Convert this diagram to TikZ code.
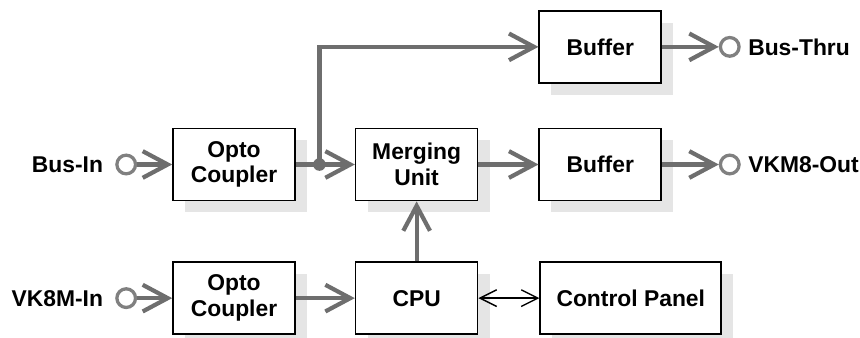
\documentclass[tikz,border=0pt]{standalone}
\usepackage{fontspec}
\setmainfont{Liberation Sans}
\usetikzlibrary{arrows.meta,positioning,shadows,calc}
\definecolor{linegray}{HTML}{6E6E6E}
\definecolor{portgray}{HTML}{808080}
\definecolor{shadowgray}{HTML}{E5E5E5}

\begin{document}
\begin{tikzpicture}[node distance=1.77cm,
      box/.style={draw=black, line width=1.4pt, fill=white, align=center,
                  minimum width=3.66cm, minimum height=2.16cm, inner sep=2pt,
                  font=\bfseries\fontsize{19.5}{22}\selectfont,
                  general shadow={fill=shadowgray, shadow xshift=0.36cm, shadow yshift=-0.36cm}},
      port/.style={circle, draw=portgray, line width=2.8pt, minimum size=0.56cm, inner sep=0pt},
      lbl/.style={font=\bfseries\fontsize{19.5}{22}\selectfont, inner sep=0pt},
      arr/.style={-{Straight Barb[length=0.75cm, width=0.8cm]}, linegray, line width=3.6pt},
      biarr/.style={{Straight Barb[length=0.5cm, width=0.5cm]}-{Straight Barb[length=0.5cm, width=0.5cm]},
                    black, line width=1.2pt}]
    \useasboundingbox (0,0) rectangle (25.8,-10.14);
    % blocks
    \node[box] (opto1) at (7.02,-4.935) {Opto\\Coupler};
    \node[box, right=of opto1] (merge) {Merging\\Unit};
    \node[box, right=1.8cm of merge] (buf2) {Buffer};
    \node[box, above=1.32cm of buf2] (buf1) {Buffer};
    \node[box, below=1.8cm of opto1] (opto2) {Opto\\Coupler};
    \node[box, right=of opto2] (cpu) {CPU};
    \node[box, right=1.83cm of cpu, minimum width=5.43cm] (panel) {Control Panel};
    % ports
    \node[port, left=1.05cm of opto1] (busin) {};
    \node[port, left=1.05cm of opto2] (vkin) {};
    \node[port, right=1.7cm of buf1] (busthru) {};
    \node[port, right=1.7cm of buf2] (vkout) {};
    \node[lbl, left=0.36cm of busin] (lbusin) {Bus-In};
    \node[lbl, left=0.36cm of vkin] (lvkin) {VK8M-In};
    \node[lbl, right=0.22cm of busthru] (lbusthru) {Bus-Thru};
    \node[lbl, right=0.22cm of vkout] (lvkout) {VKM8-Out};
    % connectors
    \coordinate (jn) at ($(opto1.east)!0.4!(merge.west)$);
    \draw[arr] (busin) -- (opto1); \draw[arr] (vkin) -- (opto2);
    \draw[arr] (opto1) -- (merge); \draw[arr] (jn) |- (buf1.west);
    \draw[arr] (merge) -- (buf2); \draw[arr] (opto2) -- (cpu); \draw[arr] (cpu) -- (merge);
    \draw[arr] (buf1) -- (busthru); \draw[arr] (buf2) -- (vkout);
    \fill[linegray] (jn) circle (0.19cm);
    \draw[biarr] (cpu) -- (panel);
  \end{tikzpicture}
\end{document}
